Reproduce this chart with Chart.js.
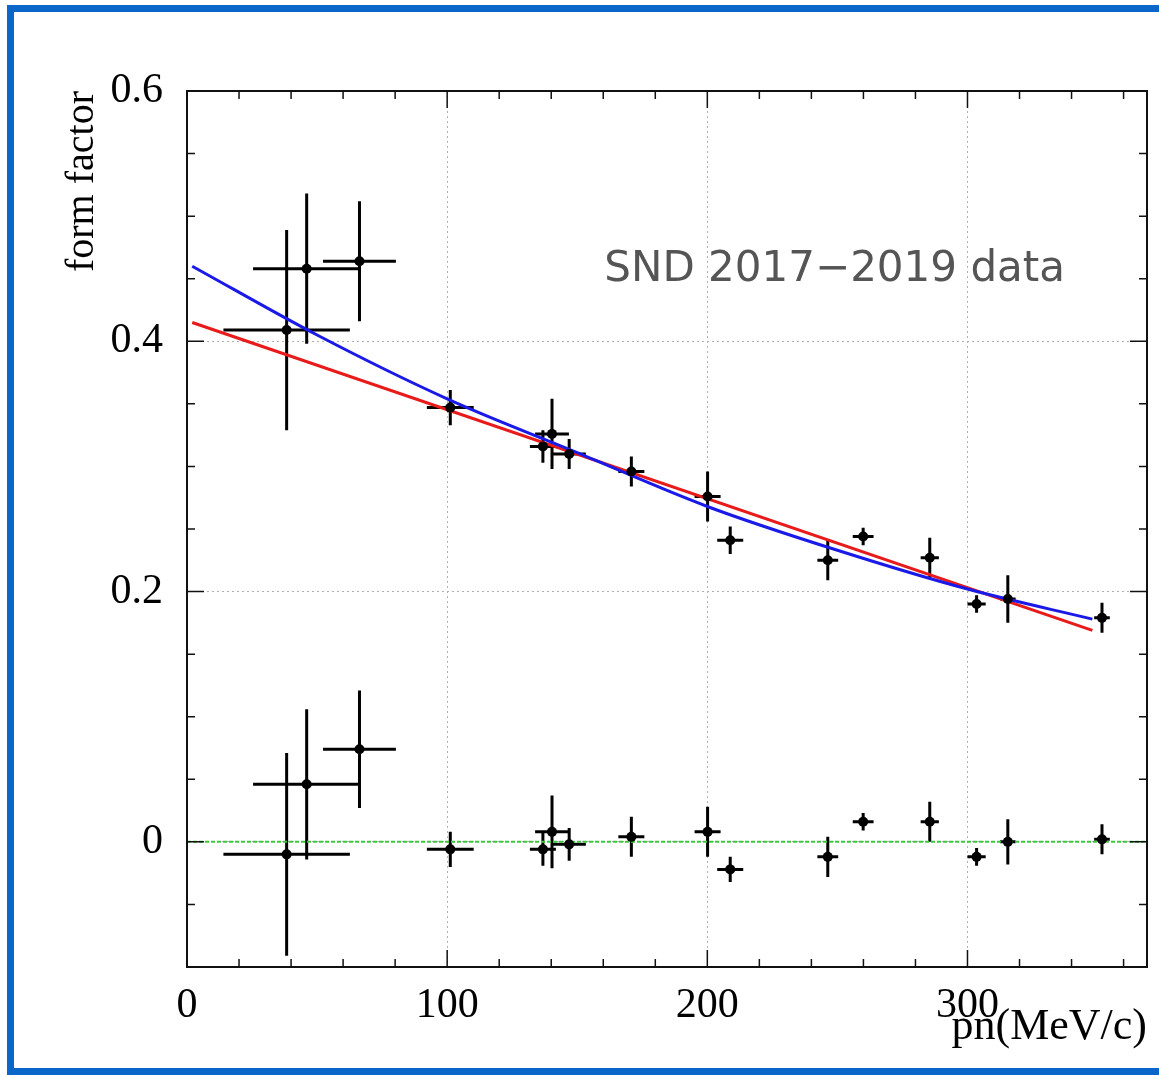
<!DOCTYPE html>
<html>
<head>
<meta charset="utf-8">
<title>form factor vs pn</title>
<script src="https://cdn.jsdelivr.net/npm/chart.js@4.4.0/dist/chart.umd.min.js"></script>
<style>
  html, body { margin: 0; padding: 0; background: #fff; }
  #wrap { position: relative; width: 1159px; height: 1075px; overflow: hidden; }
  #ffChart { position: absolute; left: 0; top: 0; }
  #border { position: absolute; left: 7px; top: 5px; width: 1180px; height: 1070px;
            box-sizing: border-box; border: 7px solid #0b66c9; pointer-events: none; }
</style>
</head>
<body>
<div id="wrap">
  <canvas id="ffChart" width="1159" height="1075"></canvas>
  <div id="border"></div>
</div>
<script>
// neutron momentum bins (MeV/c) and their half-widths
const pn    = [38.3, 46, 66.3, 101.2, 136.8, 140.3, 146.9, 170.8, 200.1, 208.8, 246.3, 259.9, 285.5, 303.5, 315.5, 351.7];
const pnErr = [24.3, 20.6, 14, 9, 5, 6.5, 6.4, 5, 5, 5, 4, 4, 3.5, 3.5, 3, 3];

// measured form factor
const formFactor    = [0.409, 0.458, 0.464, 0.347, 0.316, 0.326, 0.310, 0.296, 0.276, 0.241, 0.225, 0.244, 0.227, 0.190, 0.194, 0.179];
const formFactorErr = [0.080, 0.060, 0.048, 0.014, 0.013, 0.028, 0.012, 0.012, 0.020, 0.011, 0.016, 0.007, 0.016, 0.007, 0.019, 0.012];

// second set, scattered around zero
const residual    = [-0.010, 0.046, 0.074, -0.006, -0.006, 0.008, -0.002, 0.004, 0.008, -0.022, -0.012, 0.016, 0.016, -0.012, 0.000, 0.002];
const residualErr = [0.081, 0.060, 0.047, 0.014, 0.013, 0.029, 0.013, 0.016, 0.020, 0.010, 0.016, 0.007, 0.016, 0.007, 0.018, 0.012];

// fit curves
const blueFitX = [2, 50, 100, 150, 200, 250, 300, 348];
const blueFitY = [0.460, 0.405, 0.354, 0.311, 0.268, 0.233, 0.202, 0.178];
const redFitX  = [2, 348];
const redFitY  = [0.415, 0.169];

// zero reference line
const zeroX = [0, 369];
const zeroY = [0, 0];

// labelled ticks
const xMajor = [0, 100, 200, 300];
const yMajor = [0, 0.2, 0.4, 0.6];

const serif = 'Liberation Serif';
const toPoints = (xs, ys) => xs.map((v, i) => ({ x: v, y: ys[i] }));
const isMajorY = v => yMajor.some(m => Math.abs(m - v) < 1e-9);

// cross-shaped error bars, drawn under the markers
const errorBars = {
  id: 'errorBars',
  beforeDatasetsDraw(chart) {
    const { ctx, scales: { x, y } } = chart;
    ctx.save();
    ctx.strokeStyle = '#000';
    ctx.lineWidth = 3;
    chart.data.datasets.forEach(ds => {
      if (!ds.yErr) return;
      ds.data.forEach((p, i) => {
        const px = x.getPixelForValue(p.x);
        const py = y.getPixelForValue(p.y);
        ctx.beginPath();
        ctx.moveTo(x.getPixelForValue(p.x - ds.xErr[i]), py);
        ctx.lineTo(x.getPixelForValue(p.x + ds.xErr[i]), py);
        ctx.moveTo(px, y.getPixelForValue(p.y - ds.yErr[i]));
        ctx.lineTo(px, y.getPixelForValue(p.y + ds.yErr[i]));
        ctx.stroke();
      });
    });
    ctx.restore();
  }
};

// box frame with inward ticks on all four sides, plus the data label
const frame = {
  id: 'frame',
  afterDraw(chart) {
    const { ctx, chartArea: a, scales: { x, y } } = chart;
    ctx.save();
    ctx.strokeStyle = '#111';
    ctx.lineWidth = 2;
    ctx.strokeRect(a.left, a.top, a.right - a.left, a.bottom - a.top);

    ctx.lineWidth = 1.5;
    ctx.beginPath();
    x.ticks.forEach(t => {
      if (t.value % 20 !== 0) return;
      const len = xMajor.includes(t.value) ? 17 : 8;
      const px = x.getPixelForValue(t.value);
      ctx.moveTo(px, a.bottom); ctx.lineTo(px, a.bottom - len);
      ctx.moveTo(px, a.top);    ctx.lineTo(px, a.top + len);
    });
    y.ticks.forEach(t => {
      const len = isMajorY(t.value) ? 17 : 8;
      const py = y.getPixelForValue(t.value);
      ctx.moveTo(a.left, py);  ctx.lineTo(a.left + len, py);
      ctx.moveTo(a.right, py); ctx.lineTo(a.right - len, py);
    });
    ctx.stroke();

    ctx.font = '42px "DejaVu Sans"';
    ctx.fillStyle = '#555';
    ctx.textBaseline = 'alphabetic';
    ctx.fillText('SND 2017\u22122019 data', x.getPixelForValue(160.4), y.getPixelForValue(0.448));
    ctx.restore();
  }
};

const ctx = document.getElementById('ffChart').getContext('2d');
const ffChart = new Chart(ctx, {
  type: 'scatter',
  data: {
    datasets: [
      {
        label: 'form factor',
        data: toPoints(pn, formFactor),
        xErr: pnErr,
        yErr: formFactorErr,
        pointRadius: 5,
        pointBackgroundColor: '#000',
        pointBorderWidth: 0,
        order: 0
      },
      {
        label: 'residual',
        data: toPoints(pn, residual),
        xErr: pnErr,
        yErr: residualErr,
        pointRadius: 5,
        pointBackgroundColor: '#000',
        pointBorderWidth: 0,
        order: 0
      },
      {
        label: 'fit 1',
        data: toPoints(blueFitX, blueFitY),
        showLine: true,
        pointRadius: 0,
        borderColor: '#1a1ae8',
        borderWidth: 3,
        cubicInterpolationMode: 'monotone',
        order: 1
      },
      {
        label: 'fit 2',
        data: toPoints(redFitX, redFitY),
        showLine: true,
        pointRadius: 0,
        borderColor: '#e81a1a',
        borderWidth: 3,
        order: 1
      },
      {
        label: 'zero',
        data: toPoints(zeroX, zeroY),
        showLine: true,
        pointRadius: 0,
        borderColor: '#3cc83c',
        borderWidth: 2,
        borderDash: [4, 2],
        order: 2
      }
    ]
  },
  options: {
    responsive: false,
    devicePixelRatio: 1,
    animation: false,
    layout: { padding: { top: 91, right: 12, left: 0, bottom: 0 } },
    plugins: {
      legend: { display: false },
      tooltip: { enabled: false }
    },
    scales: {
      x: {
        type: 'linear',
        min: 0,
        max: 369,
        afterFit: s => { s.height = 108; },
        ticks: {
          stepSize: 20,
          autoSkip: false,
          maxRotation: 0,
          includeBounds: false,
          padding: 14,
          color: '#000',
          font: { family: serif, size: 42 },
          callback: v => xMajor.includes(v) ? String(v) : ''
        },
        grid: {
          drawTicks: false,
          lineWidth: 1,
          color: c => (c.tick && c.tick.value > 0 && xMajor.includes(c.tick.value)) ? '#b0b0b0' : 'transparent'
        },
        border: { display: false, dash: [2, 3] },
        title: {
          display: true,
          text: 'pn(MeV/c)',
          align: 'end',
          color: '#000',
          font: { family: serif, size: 44 },
          padding: { top: 0, bottom: 21 }
        }
      },
      y: {
        min: -0.1,
        max: 0.6,
        afterFit: s => { s.width = 187; },
        ticks: {
          stepSize: 0.05,
          autoSkip: false,
          padding: 24,
          color: '#000',
          font: { family: serif, size: 42 },
          callback: v => {
            const m = yMajor.find(t => Math.abs(t - v) < 1e-9);
            if (m === undefined) return '';
            return m === 0 ? '0' : m.toFixed(1);
          }
        },
        grid: {
          drawTicks: false,
          lineWidth: 1,
          color: c => (c.tick && c.tick.value < 0.59 && isMajorY(c.tick.value)) ? '#b0b0b0' : 'transparent'
        },
        border: { display: false, dash: [2, 3] },
        title: {
          display: true,
          text: 'form factor',
          align: 'end',
          color: '#000',
          font: { family: serif, size: 40 },
          padding: { top: 58, bottom: 0 }
        }
      }
    }
  },
  plugins: [errorBars, frame]
});
</script>
</body>
</html>
